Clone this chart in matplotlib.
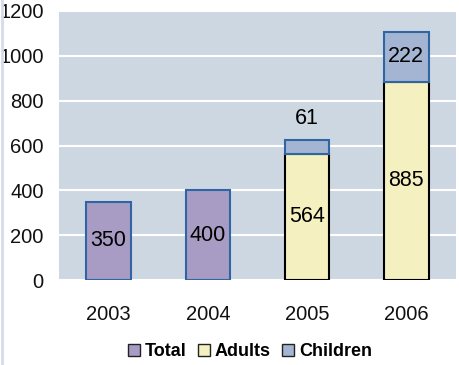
import matplotlib
matplotlib.use("Agg")
import matplotlib.pyplot as plt
import numpy as np
from matplotlib.patches import Patch
from matplotlib.lines import Line2D

plt.rcParams["font.family"] = ["Liberation Sans", "DejaVu Sans"]

years = ["2003", "2004", "2005", "2006"]
total = [350, 400, 0, 0]
adults = [0, 0, 564, 885]
children = [0, 0, 61, 222]

C_TOTAL = "#a89cc4"
C_ADULTS = "#f4f0bf"
C_CHILD = "#a3b5d2"
C_EDGE = "#2f65a3"
BG = "#cdd7e2"
VAL_SIZE = 15.5

fig = plt.figure(figsize=(4.6, 3.65), dpi=100)
ax = fig.add_axes([59 / 460, 1 - 280 / 365, 397 / 460, 269 / 365])
ax.set_facecolor(BG)

x = np.arange(len(years))
w = 0.45
for i in range(len(years)):
    if total[i]:
        ax.bar(x[i], total[i], w, color=C_TOTAL, edgecolor=C_EDGE, linewidth=1.5, zorder=3)
        ax.text(x[i], total[i] / 2, str(total[i]), ha="center", va="center",
                fontsize=VAL_SIZE, zorder=4)
    if adults[i]:
        ax.bar(x[i], adults[i], w, color=C_ADULTS, edgecolor="black", linewidth=1.5, zorder=3)
        ax.text(x[i], adults[i] / 2, str(adults[i]), ha="center", va="center",
                fontsize=VAL_SIZE, zorder=4)
    if children[i]:
        ax.bar(x[i], children[i], w, bottom=adults[i], color=C_CHILD, edgecolor=C_EDGE,
               linewidth=1.5, zorder=3)
        if children[i] > 100:
            ax.text(x[i], adults[i] + children[i] / 2, str(children[i]), ha="center",
                    va="center", fontsize=VAL_SIZE, zorder=4)
        else:
            ax.text(x[i], adults[i] + children[i] + 95, str(children[i]), ha="center",
                    va="center", fontsize=VAL_SIZE, zorder=4)

ax.set_xlim(-0.5, 3.5)
ax.set_ylim(0, 1200)
ax.set_yticks(range(0, 1201, 200))
ax.set_xticks(x)
ax.set_xticklabels(years)
ax.yaxis.grid(True, color="white", linewidth=1.5, zorder=1)
ax.set_axisbelow(True)
for s in ax.spines.values():
    s.set_visible(False)
ax.tick_params(axis="both", length=0, labelsize=14.5, colors="#111111")
ax.tick_params(axis="x", pad=18)
ax.tick_params(axis="y", pad=11)

handles = [Patch(facecolor=C_TOTAL, edgecolor="#222222", label="Total"),
           Patch(facecolor=C_ADULTS, edgecolor="#222222", label="Adults"),
           Patch(facecolor=C_CHILD, edgecolor="#222222", label="Children")]
fig.legend(handles=handles, loc="center", bbox_to_anchor=(250 / 460, 1 - 352 / 365), ncol=3,
           frameon=False, prop={"weight": "bold", "size": 13}, handlelength=0.65,
           handleheight=0.65, handletextpad=0.3, columnspacing=0.6)

fig.add_artist(Line2D([2 / 460, 2 / 460], [0, 1], color="#d8dce8", linewidth=2))

fig.savefig("out.png", dpi=100)
